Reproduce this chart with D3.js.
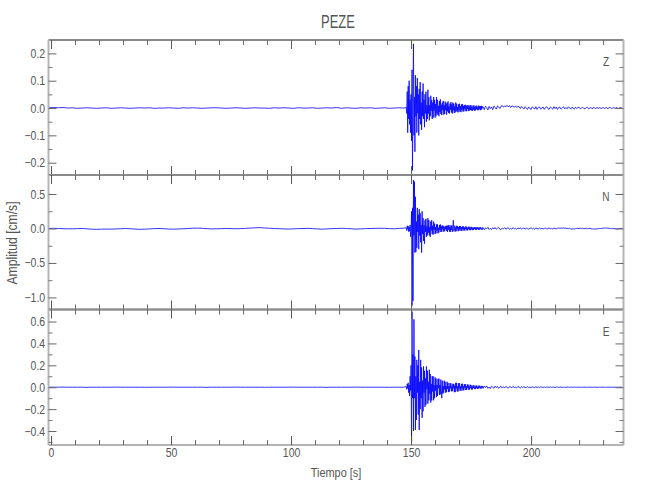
<!DOCTYPE html>
<html>
<head>
<meta charset="utf-8">
<script src="https://cdn.jsdelivr.net/npm/d3@7"></script>
<style>
  html, body { margin: 0; padding: 0; background: #fff; }
  svg text { font-family: 'Liberation Sans', Arial, sans-serif; fill: #555; }
</style>
</head>
<body>
<svg id="chart" width="650" height="500"></svg>
<script>
// ---------- data ----------
const title = "PEZE";
const xLabel = "Tiempo [s]";
const yLabel = "Amplitud [cm/s]";
const channels = ["Z", "N", "E"];

// sampling of the three trace segments (seconds)
const preStart = -1, preStep = 2;      // pre-event noise
const evStart = 148, evStep = 0.2;     // strong motion
const tailStart = 180, tailStep = 0.5; // coda

const xTicksMajor = [0, 50, 100, 150, 200];
const xTicksMinor = [10, 20, 30, 40, 60, 70, 80, 90, 110, 120, 130, 140, 160, 170, 180, 190, 210, 220, 230];
const xDomain = [-1.05, 238.5];

const zDomain = [-0.245, 0.249];
const nDomain = [-1.175, 0.776];
const eDomain = [-0.528, 0.71];
const zTicks = [-0.2, -0.1, 0.0, 0.1, 0.2];
const nTicks = [-1.0, -0.5, 0.0, 0.5];
const eTicks = [-0.4, -0.2, 0.0, 0.2, 0.4, 0.6];
const zMinor = [-0.15, -0.05, 0.05, 0.15];
const nMinor = [-0.75, -0.25, 0.25];
const eMinor = [-0.5, -0.3, -0.1, 0.1, 0.3, 0.5];

const zPre = [0.001,0.002,0.001,0.002,0.000,0.001,-0.001,0.000,0.001,0.000,
 -0.001,0.000,0.001,-0.001,0.000,0.001,0.000,-0.001,0.000,0.001,
 0.000,0.001,-0.001,0.000,0.000,0.001,0.000,-0.001,0.001,0.000,
 0.001,0.000,-0.001,0.000,0.001,0.001,0.000,-0.001,0.000,0.001,
 0.000,-0.001,0.000,0.001,0.000,0.000,-0.001,0.001,0.000,0.001,
 0.000,-0.001,0.001,0.000,0.000,0.001,-0.001,0.000,0.001,0.000,
 0.002,-0.001,0.001,0.000,-0.001,0.001,0.000,0.001,-0.001,0.000,
 0.001,-0.001,0.000,0.001,0.000];
const zEvent = [
 0.002,-0.02,0.06,-0.09,0.08,
 -0.04,0.1,-0.06,0.03,-0.09,
 0.05,-0.12,0.14,-0.228,0.06,
 0.235,-0.1,0.04,-0.16,0.12,
 -0.03,0.08,-0.09,0.11,-0.02,
 0.05,-0.1,0.07,-0.04,0.095,
 -0.06,0.02,-0.08,0.06,-0.03,
 0.09,-0.04,0.03,-0.07,0.05,
 -0.02,0.06,-0.05,0.01,-0.04,
 0.067,-0.02,0.04,-0.045,0.01,
 -0.03,0.045,-0.01,0.03,-0.04,
 0.02,-0.035,0.04,-0.01,0.03,
 -0.035,0.015,-0.03,0.04,-0.02,
 0.03,-0.025,0.008,-0.03,0.025,
 -0.015,0.032,-0.022,0.012,-0.026,
 0.02,-0.008,0.026,-0.024,0.01,
 -0.022,0.024,-0.008,0.016,-0.024,
 0.02,-0.012,0.024,-0.018,0.006,
 -0.02,0.016,-0.006,0.022,-0.016,
 0.014,-0.02,0.02,-0.008,0.016,
 -0.018,0.006,-0.016,0.02,-0.01,
 0.016,-0.014,0.004,-0.016,0.014,
 -0.008,0.016,-0.014,0.006,-0.015,
 0.013,-0.006,0.015,-0.012,0.008,
 -0.013,0.011,-0.004,0.012,-0.011,
 0.008,-0.012,0.011,-0.003,0.01,
 -0.011,0.006,-0.009,0.011,-0.007,
 0.01,-0.009,0.003,-0.01,0.009,
 -0.006,0.01,-0.009,0.004,-0.009,
 0.008,-0.004,0.009,-0.008,0.003,
 -0.008,0.009,-0.003,0.007,-0.008,
 0.007,-0.007,0.008,-0.002,0.006];
const zTail = [
 0.004,-0.006,0.007,0.002,-0.007,0.006,-0.002,0.004,-0.006,0.007,
 0.002,-0.004,0.008,0.004,-0.002,0.007,0.009,0.003,0.008,0.005,
 0.01,0.004,0.009,0.002,0.008,0.006,0.003,0.008,0.002,0.006,
 0.005,-0.002,0.006,0.001,-0.004,0.005,0.000,-0.005,0.004,-0.002,
 -0.005,0.004,0.001,-0.004,0.005,-0.005,0.002,0.004,-0.004,0.000,
 0.004,-0.005,0.002,0.005,-0.002,-0.005,0.004,0.000,-0.004,0.005,
 -0.002,0.004,-0.005,0.002,0.003,-0.004,0.000,0.005,-0.003,0.002,
 -0.003,0.004,0.002,-0.004,0.003,0.000,-0.004,0.003,-0.002,0.002,
 0.003,-0.003,0.000,0.003,-0.002,-0.003,0.002,0.003,-0.003,0.000,
 0.002,-0.003,0.003,0.000,-0.002,0.003,-0.003,0.002,0.000,-0.002,
 0.003,-0.002,0.000,0.002,-0.003,0.002,0.002,-0.002,0.000,0.002,
 -0.002,0.002,0.000,-0.002,0.002,0.000,0.000];

const nPre = [0.000,0.002,0.000,-0.003,-0.005,-0.004,-0.002,0.000,-0.005,-0.01,
 -0.012,-0.01,-0.008,-0.01,-0.006,-0.003,0.000,-0.004,-0.008,-0.012,
 -0.01,-0.006,-0.002,0.000,-0.003,-0.008,-0.01,-0.007,-0.004,0.000,
 0.004,0.006,0.003,-0.002,-0.006,-0.004,-0.002,0.000,-0.002,-0.004,
 -0.002,0.002,0.006,0.01,0.012,0.008,0.004,0.000,-0.003,-0.006,
 -0.008,-0.005,-0.002,0.000,0.002,-0.002,-0.006,-0.01,-0.006,-0.002,
 0.000,0.003,0.000,-0.004,-0.008,-0.006,-0.002,0.000,0.002,0.004,
 0.002,-0.002,-0.004,0.002,0.004];
const nEvent = [
 0.01,-0.03,0.04,-0.01,0.035,
 -0.045,0.02,-0.04,0.05,-0.12,
 -0.02,0.25,-1.12,0.3,-1.05,
 0.70,-0.1,0.68,-0.35,0.46,
 -0.34,0.1,-0.28,0.3,-0.05,
 0.2,-0.3,0.28,-0.1,0.22,
 -0.2,0.05,-0.35,0.25,-0.08,
 0.15,-0.18,0.05,-0.22,0.12,
 -0.05,0.14,-0.12,0.03,-0.1,
 0.15,-0.06,0.12,-0.1,0.02,
 -0.12,0.1,-0.03,0.12,-0.08,
 0.04,-0.09,0.1,-0.02,0.07,
 -0.08,0.02,-0.07,0.06,-0.03,
 0.06,-0.07,0.01,-0.06,0.05,
 -0.02,0.06,-0.05,0.03,-0.05,
 0.045,-0.01,0.04,-0.045,0.02,
 -0.04,0.035,-0.01,0.04,-0.035,
 0.04,-0.05,0.045,-0.015,0.05,
 -0.045,0.02,-0.05,0.045,-0.02,
 0.045,-0.05,0.01,0.12,-0.04,
 -0.015,0.04,-0.045,0.015,-0.04,
 0.04,-0.01,0.035,-0.04,0.02,
 -0.035,0.035,-0.008,0.035,-0.035,
 0.02,-0.035,0.03,-0.01,0.03,
 -0.03,0.015,-0.03,0.028,-0.008,
 0.028,-0.026,0.01,-0.028,0.025,
 -0.008,0.026,-0.024,0.01,-0.025,
 0.024,-0.012,0.022,-0.024,0.006,
 -0.022,0.02,-0.008,0.022,-0.02,
 0.012,-0.02,0.018,-0.006,0.02,
 -0.018,0.008,-0.02,0.018,-0.004,
 0.018,-0.016,0.006,-0.018,0.014];
const nTail = [
 0.016,-0.018,0.01,-0.005,0.017,-0.015,0.003,-0.016,0.012,-0.008,
 0.014,-0.012,0.005,0.014,-0.01,-0.015,0.007,-0.005,0.013,-0.011,
 0.003,0.011,-0.012,0.004,-0.009,0.012,-0.006,0.002,-0.012,0.008,
 -0.004,0.01,-0.008,0.000,0.008,-0.01,0.006,-0.002,-0.009,0.004,
 0.008,-0.006,0.002,-0.009,0.006,0.000,-0.007,0.007,-0.004,0.004,
 -0.007,0.002,0.005,-0.005,-0.002,0.007,-0.004,0.002,-0.006,0.005,
 0.000,-0.004,0.003,0.006,0.003,0.007,0.004,0.008,0.003,0.006,
 0.002,-0.003,0.003,-0.005,-0.008,-0.004,-0.007,-0.003,0.000,0.003,
 -0.003,0.004,-0.001,0.003,-0.004,0.001,0.004,-0.003,0.000,0.003,
 -0.004,-0.006,-0.008,-0.005,-0.009,-0.004,-0.001,0.001,-0.003,0.003,
 0.004,0.007,0.005,0.008,0.004,0.003,-0.001,0.001,-0.003,0.000,
 -0.004,-0.003,-0.005,-0.001,0.000,0.001,0.000];

const ePre = [0.000,0.000,0.000,0.001,0.000,0.000,0.000,0.000,-0.001,0.000,
 0.000,0.000,0.000,0.000,0.001,0.000,0.000,0.000,0.000,0.000,
 -0.001,0.000,0.000,0.000,0.000,0.000,0.001,0.000,0.000,0.000,
 0.000,0.000,0.000,-0.001,0.000,0.000,0.000,0.000,0.000,0.001,
 0.000,0.000,0.000,0.000,0.000,-0.001,0.000,0.000,0.000,0.000,
 0.000,0.001,0.000,0.000,0.000,0.000,0.000,0.000,-0.001,0.000,
 0.000,0.000,0.000,0.000,0.001,0.000,0.000,0.000,0.000,0.000,
 0.000,-0.001,0.000,0.000,0.000];
const eEvent = [
 0.005,-0.02,0.03,-0.01,0.04,
 -0.05,0.02,-0.08,0.1,-0.03,
 0.2,-0.5,0.69,-0.1,0.3,
 -0.4,0.62,-0.1,0.28,-0.39,
 0.1,-0.3,0.25,-0.05,0.2,
 -0.25,0.34,-0.39,0.05,-0.2,
 0.25,-0.1,0.18,-0.28,0.06,
 -0.22,0.19,-0.05,0.15,-0.18,
 0.08,-0.16,0.19,-0.02,0.15,
 -0.15,0.05,-0.12,0.16,-0.06,
 0.12,-0.14,0.03,-0.12,0.1,
 -0.04,0.1,-0.12,0.02,-0.1,
 0.09,-0.03,0.08,-0.09,0.02,
 -0.08,0.075,-0.01,0.08,-0.07,
 0.02,-0.065,0.07,-0.03,-0.1,
 0.06,-0.06,0.01,-0.05,0.06,
 -0.02,0.05,-0.05,0.01,-0.045,
 0.05,-0.015,0.04,-0.045,0.01,
 -0.04,0.038,-0.01,0.035,-0.038,
 0.01,-0.036,0.032,-0.01,0.03,
 -0.045,0.015,-0.045,0.04,-0.012,
 0.04,-0.038,0.008,-0.04,0.036,
 -0.012,0.036,-0.033,0.006,-0.033,
 0.03,-0.009,0.032,-0.03,0.008,
 -0.028,0.029,-0.006,0.027,-0.026,
 0.008,-0.025,0.026,-0.005,0.023,
 -0.023,0.006,-0.021,0.023,-0.008,
 0.02,-0.021,0.005,-0.02,0.018,
 -0.006,0.018,-0.017,0.005,-0.017,
 0.015,-0.006,0.015,-0.015,0.003,
 -0.014,0.014,-0.005,0.014,-0.012,
 0.005,-0.012,0.012,-0.003,0.011];
const eTail = [
 -0.012,0.011,-0.004,0.012,-0.01,0.002,-0.012,0.009,0.000,-0.01,
 0.01,-0.004,0.008,-0.01,0.002,0.008,-0.008,0.004,-0.006,0.008,
 -0.002,-0.008,0.006,0.002,-0.006,0.008,-0.004,0.000,-0.006,0.006,
 0.002,-0.006,0.004,-0.002,0.006,-0.004,-0.002,0.005,-0.004,0.002,
 -0.004,0.004,0.000,-0.004,0.004,-0.002,0.002,-0.004,0.003,0.000,
 -0.002,0.003,-0.003,0.002,0.000,-0.002,0.003,-0.002,0.000,0.002,
 -0.003,0.002,0.001,-0.002,0.000,0.002,-0.002,0.001,0.000,-0.002,
 0.002,0.000,-0.001,0.001,0.000,-0.001,0.002,0.000,0.000,-0.001,
 0.001,0.000,-0.001,0.000,0.001,0.000,-0.001,0.000,0.001,0.000,
 0.000,-0.001,0.000,0.001,0.000,0.000,-0.001,0.000,0.000,0.001,
 0.000,0.000,-0.001,0.000,0.000,0.000,0.001,0.000,0.000,0.000,
 0.000,-0.001,0.000,0.000,0.000,0.000,0.000];

// ---------- layout ----------
const svg = d3.select("#chart");
const left = 48.5, right = 623.5;
const panelTops = [40, 175, 309.5];
const panelH = [135, 134.5, 135.5];
const SX = 0.84; // horizontal squeeze to mimic the narrow stroke font

const x = d3.scaleLinear().domain(xDomain).range([left, right]);

function trace(pre, ev, tail) {
  const pts = [];
  pre.forEach((v, i) => pts.push([preStart + i * preStep, v]));
  ev.forEach((v, i) => pts.push([evStart + i * evStep, v]));
  tail.forEach((v, i) => pts.push([tailStart + i * tailStep, v]));
  return pts;
}

const panels = [
  { name: channels[0], dom: zDomain, ticks: zTicks, minor: zMinor, data: trace(zPre, zEvent, zTail) },
  { name: channels[1], dom: nDomain, ticks: nTicks, minor: nMinor, data: trace(nPre, nEvent, nTail) },
  { name: channels[2], dom: eDomain, ticks: eTicks, minor: eMinor, data: trace(ePre, eEvent, eTail) }
];

function styleAxis(g, col) {
  g.select(".domain").remove();
  g.selectAll(".tick line").attr("stroke", col).attr("stroke-width", 1);
  g.selectAll(".tick text").attr("fill", "#555").style("font-size", "12.5px")
    .attr("transform", `scale(${SX},1)`);
}

const fmt1 = d3.format(".1f");
const fmtMinus = s => s.replace("-", "\u2212");

panels.forEach((p, i) => {
  const top = panelTops[i], h = panelH[i], bot = top + h;
  const y = d3.scaleLinear().domain(p.dom).range([bot, top]);

  // trace
  const clipId = "clip" + i;
  svg.append("clipPath").attr("id", clipId).append("rect")
    .attr("x", left).attr("y", top).attr("width", right - left).attr("height", h);
  svg.append("path").datum(p.data)
    .attr("clip-path", `url(#${clipId})`)
    .attr("fill", "none").attr("stroke", "#0000ff").attr("stroke-width", 0.8)
    .attr("d", d3.line().x(d => x(d[0])).y(d => y(d[1])));

  // frame
  svg.append("line").attr("x1", left).attr("x2", right).attr("y1", top).attr("y2", top)
    .attr("stroke", "#8a8a8a").attr("stroke-width", 2);
  svg.append("line").attr("x1", left).attr("x2", right).attr("y1", bot).attr("y2", bot)
    .attr("stroke", "#b4b4b4").attr("stroke-width", 2);
  svg.append("line").attr("x1", left).attr("x2", left).attr("y1", top).attr("y2", bot)
    .attr("stroke", "#b4b4b4").attr("stroke-width", 2);
  svg.append("line").attr("x1", right).attr("x2", right).attr("y1", top).attr("y2", bot)
    .attr("stroke", "#b4b4b4").attr("stroke-width", 2);

  // y axes (left with labels, right mirrored)
  const yl = svg.append("g").attr("transform", `translate(${left},0)`)
    .call(d3.axisLeft(y).tickValues(p.ticks).tickSize(-8).tickPadding(4).tickFormat(d => fmtMinus(fmt1(d))));
  styleAxis(yl, "#666");
  const ylm = svg.append("g").attr("transform", `translate(${left},0)`)
    .call(d3.axisLeft(y).tickValues(p.minor).tickSize(-4).tickFormat(""));
  styleAxis(ylm, "#777");
  const yr = svg.append("g").attr("transform", `translate(${right},0)`)
    .call(d3.axisRight(y).tickValues(p.ticks).tickSize(-8).tickFormat(""));
  styleAxis(yr, "#666");
  const yrm = svg.append("g").attr("transform", `translate(${right},0)`)
    .call(d3.axisRight(y).tickValues(p.minor).tickSize(-4).tickFormat(""));
  styleAxis(yrm, "#777");

  // x axes top & bottom
  const xt = svg.append("g").attr("transform", `translate(0,${top})`)
    .call(d3.axisTop(x).tickValues(xTicksMajor).tickSize(-9).tickFormat(""));
  styleAxis(xt, "#555");
  const xtm = svg.append("g").attr("transform", `translate(0,${top})`)
    .call(d3.axisTop(x).tickValues(xTicksMinor).tickSize(-5).tickFormat(""));
  styleAxis(xtm, "#666");
  const xb = svg.append("g").attr("transform", `translate(0,${bot})`)
    .call(d3.axisBottom(x).tickValues(xTicksMajor).tickSize(-9).tickPadding(3)
      .tickFormat(i === panels.length - 1 ? d3.format("d") : ""));
  styleAxis(xb, "#555");
  const xbm = svg.append("g").attr("transform", `translate(0,${bot})`)
    .call(d3.axisBottom(x).tickValues(xTicksMinor).tickSize(-5).tickFormat(""));
  styleAxis(xbm, "#666");

  // channel label
  svg.append("text").attr("transform", `translate(606,${top + 26}) scale(${SX},1)`)
    .attr("text-anchor", "middle").style("font-size", "12px").attr("fill", "#555").text(p.name);
});

// titles
svg.append("text").attr("transform", "translate(338,28) scale(0.72,1)").attr("text-anchor", "middle")
  .style("font-size", "18px").attr("fill", "#777").text(title);
svg.append("text").attr("transform", `translate(336,477) scale(${SX},1)`).attr("text-anchor", "middle")
  .style("font-size", "13px").attr("fill", "#555").text(xLabel);
svg.append("text").attr("transform", `translate(17,243) rotate(-90) scale(${SX},1)`).attr("text-anchor", "middle")
  .style("font-size", "14.5px").attr("fill", "#555").text(yLabel);
</script>
</body>
</html>
